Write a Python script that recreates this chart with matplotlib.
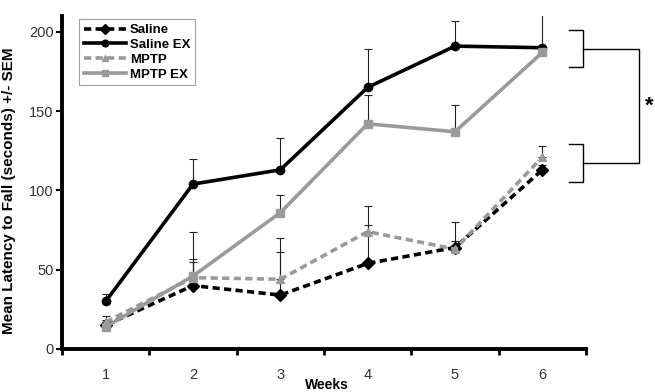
import matplotlib
matplotlib.use("Agg")
import matplotlib.pyplot as plt
import numpy as np

plt.rcParams['font.family'] = ['Liberation Sans', 'DejaVu Sans']

weeks = [1, 2, 3, 4, 5, 6]
saline = [15, 40, 34, 54, 64, 113]
saline_err = [3, 17, 27, 24, 4, 3]
saline_ex = [30, 104, 113, 165, 191, 190]
saline_ex_err = [5, 16, 20, 24, 16, 21]
mptp = [17, 45, 44, 74, 63, 121]
mptp_err = [4, 10, 26, 16, 17, 7]
mptp_ex = [14, 46, 86, 142, 137, 187]
mptp_ex_err = [3, 28, 11, 18, 17, 3]

gray = '#9a9a9a'
fig = plt.figure(figsize=(6.55, 3.92), dpi=100)
ax = fig.add_axes([62/655, 43/392, (586-62)/655, (349-16)/392])

series = [
    ('Saline', saline, saline_err, 'black', '--', 'D'),
    ('Saline EX', saline_ex, saline_ex_err, 'black', '-', 'o'),
    ('MPTP', mptp, mptp_err, gray, '--', '^'),
    ('MPTP EX', mptp_ex, mptp_ex_err, gray, '-', 's'),
]
for name, vals, err, col, ls, mk in series:
    ax.errorbar(weeks, vals, yerr=[np.zeros(len(err)), err], fmt='none',
                ecolor='#222222', elinewidth=0.8, capsize=3, capthick=0.8, zorder=1)
for name, vals, err, col, ls, mk in series:
    ax.plot(weeks, vals, color=col, linestyle=ls, linewidth=2.6, marker=mk,
            markersize=6, markeredgecolor=col, markerfacecolor=col, label=name,
            dashes=(2, 1.2) if ls == '--' else (None, None), zorder=3)

ax.set_xlim(0.5, 6.5)
ax.set_ylim(0, 210)
ax.set_xticks(np.arange(0.5, 7.0, 1.0))
ax.set_xticklabels([])
ax.set_xticks(weeks, minor=True)
ax.set_xticklabels([str(w) for w in weeks], minor=True)
ax.tick_params(axis='x', which='minor', length=0, pad=14, labelsize=10.5, labelcolor='#333333')
ax.tick_params(axis='x', which='major', length=4, width=2)
ax.set_yticks([0, 50, 100, 150, 200])
ax.tick_params(axis='y', length=4, width=1.5, labelsize=10.5, labelcolor='#333333', pad=2)
for s in ['top', 'right']:
    ax.spines[s].set_visible(False)
for s in ['left', 'bottom']:
    ax.spines[s].set_linewidth(2.8)

ax.set_xlabel('Weeks', fontweight='bold', fontsize=10)
ax.xaxis.set_label_coords(0.505, -0.088)
ax.set_ylabel('Mean Latency to Fall (seconds) +/- SEM', fontweight='bold', fontsize=11)
ax.yaxis.set_label_coords(-0.088, 0.475)

leg = ax.legend(loc='upper left', bbox_to_anchor=(0.02, 1.01), frameon=True,
                fancybox=False, edgecolor='#888888', prop={'weight': 'bold', 'size': 9.5},
                handlelength=3.2, handletextpad=0.3, labelspacing=0.2, borderpad=0.35,
                markerscale=0.8)
leg.get_frame().set_linewidth(0.8)

# significance brackets
kw = dict(color='black', linewidth=1.0, clip_on=False)
x0, x1, x2 = 6.30, 6.46, 7.11
for lo, hi in [(178, 201), (105, 129)]:
    ax.plot([x0, x1, x1, x0], [hi, hi, lo, lo], **kw)
ax.plot([x1, x2, x2, x1], [189, 189, 117, 117], **kw)
ax.text(7.23, 153, '*', fontsize=16, fontweight='bold', ha='center', va='center',
        clip_on=False)

fig.savefig('out.png', dpi=100)
